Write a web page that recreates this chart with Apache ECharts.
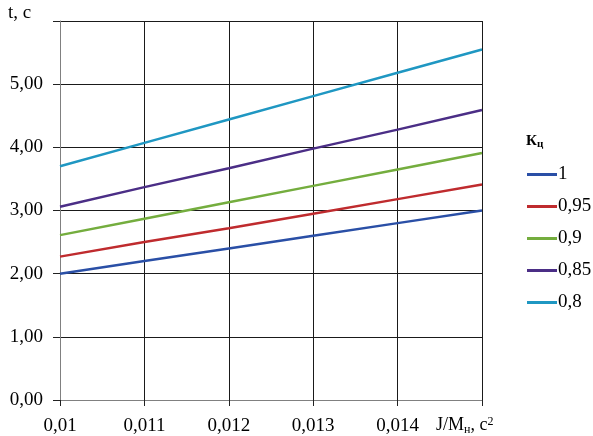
<!DOCTYPE html>
<html><head><meta charset="utf-8">
<script src="https://cdn.jsdelivr.net/npm/echarts@6/dist/echarts.min.js"></script>
<style>html,body{margin:0;padding:0;background:#fff}#c{width:593px;height:436px}</style>
</head><body><div id="c"></div>
<script>
const xTicks = [0.010, 0.011, 0.012, 0.013, 0.014, 0.015];
const seriesNames = ['1', '0,95', '0,9', '0,85', '0,8'];
const k1    = [2.00, 2.20, 2.40, 2.60, 2.80, 3.00];
const k095  = [2.27, 2.50, 2.72, 2.95, 3.18, 3.41];
const k09   = [2.61, 2.87, 3.13, 3.39, 3.65, 3.91];
const k085  = [3.06, 3.37, 3.67, 3.98, 4.28, 4.59];
const k08   = [3.70, 4.07, 4.44, 4.81, 5.18, 5.55];
const values = [k1, k095, k09, k085, k08];
const colors = ['#2a4fa6', '#bf2b2e', '#74ad3e', '#4b2e86', '#1f97c2'];
const FONT = 'Liberation Serif';

const chart = echarts.init(document.getElementById('c'));
chart.setOption({
  animation: false,
  grid: {left: 60, right: 111, top: 21, bottom: 35, containLabel: false},
  xAxis: {
    type: 'value', min: 0.010, max: 0.015, interval: 0.001,
    axisLine: {lineStyle: {color: '#808080', width: 1}},
    axisTick: {show: true, length: 6, lineStyle: {color: '#222'}},
    splitLine: {show: true, lineStyle: {color: '#1a1a1a', width: 1}},
    axisLabel: {
      color: '#000', fontFamily: FONT, fontSize: 19, margin: 17,
      formatter: v => (Math.abs(v - 0.015) < 1e-9 ? '' : String(parseFloat(v.toFixed(3))).replace('.', ','))
    }
  },
  yAxis: {
    type: 'value', min: 0, max: 6, interval: 1,
    axisLine: {show: true, lineStyle: {color: '#808080', width: 1}},
    axisTick: {show: true, length: 7, lineStyle: {color: '#222'}},
    splitLine: {show: true, lineStyle: {color: '#1a1a1a', width: 1}},
    axisLabel: {
      color: '#000', fontFamily: FONT, fontSize: 19, margin: 17,
      formatter: v => (v >= 6 ? '' : v.toFixed(2).replace('.', ','))
    }
  },
  legend: {
    orient: 'vertical', left: 522, top: 160,
    itemWidth: 30, itemHeight: 3, itemGap: 13,
    icon: 'rect',
    textStyle: {fontFamily: FONT, fontSize: 19, color: '#000', padding: [0, 0, 0, -4]},
    data: seriesNames
  },
  series: seriesNames.map((n, i) => ({
    name: n, type: 'line', showSymbol: false,
    lineStyle: {width: 2.5, color: colors[i]},
    itemStyle: {color: colors[i]},
    data: xTicks.map((x, j) => [x, values[i][j]])
  })),
  graphic: [
    {type: 'text', left: 8, top: 4, style: {text: 't, c', font: '19px "Liberation Serif"', fill: '#000'}},
    {type: 'text', left: 526, top: 134, style: {
      rich: {a: {fontFamily: FONT, fontSize: 15, fontWeight: 'bold', fill: '#000'}, s: {fontFamily: FONT, fontSize: 11, fontWeight: 'bold', padding: [6, 0, 0, 0], fill: '#000'}},
      text: '{a|К}{s|ц}'
    }},
    {type: 'text', left: 436, top: 416, style: {
      rich: {a: {fontFamily: FONT, fontSize: 18, fill: '#000'}, s: {fontFamily: FONT, fontSize: 12, padding: [8, 0, 0, 0], fill: '#000'}, p: {fontFamily: FONT, fontSize: 12, padding: [0, 0, 7, 0], fill: '#000'}},
      text: '{a|J/M}{s|н}{a|, c}{p|2}'
    }}
  ]
});
</script></body></html>
